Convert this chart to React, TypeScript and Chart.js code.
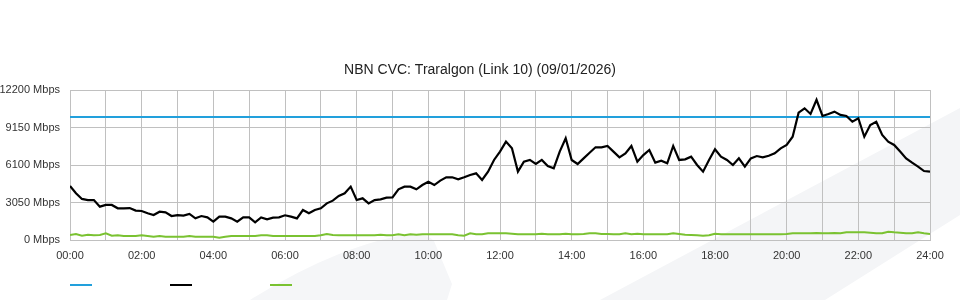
import React, { useEffect, useRef } from "react";
import { Chart, registerables } from "chart.js";

Chart.register(...registerables);

const TITLE = "NBN CVC: Traralgon (Link 10) (09/01/2026)";
const SAMPLE_MINUTES = 10;
const X_TICK_HOURS = [0, 2, 4, 6, 8, 10, 12, 14, 16, 18, 20, 22, 24];
const Y_TICKS = [0, 3050, 6100, 9150, 12200];

// capacity (blue)
const capacityHours = [0, 24];
const capacity = [10000, 10000];

// download traffic (black), one value per 10 minutes from 00:00 to 24:00
const traffic = [
  4390, 3800, 3340, 3250, 3250, 2710,
  2850, 2850, 2580, 2580, 2600, 2390,
  2360, 2170, 2030, 2300, 2250, 1950,
  2030, 1980, 2120, 1760, 1950, 1840,
  1490, 1900, 1900, 1760, 1490, 1840,
  1840, 1440, 1840, 1680, 1820, 1840,
  2010, 1900, 1760, 2440, 2170, 2440,
  2580, 2980, 3200, 3580, 3800, 4340,
  3250, 3390, 2980, 3250, 3310, 3440,
  3470, 4120, 4340, 4340, 4120, 4470,
  4740, 4470, 4830, 5100, 5100, 4930,
  5100, 5290, 5420, 4880, 5560, 6510,
  7190, 8000, 7460, 5560, 6370, 6510,
  6180, 6510, 6020, 5830, 7190, 8270,
  6510, 6180, 6640, 7100, 7540, 7540,
  7650, 7190, 6720, 7050, 7650, 6370,
  6910, 7320, 6290, 6450, 6240, 7650,
  6510, 6560, 6780, 6100, 5560, 6510,
  7380, 6780, 6510, 6100, 6640, 5970,
  6640, 6830, 6720, 6850, 7050, 7450,
  7730, 8400, 10360, 10710, 10250, 11400,
  10090, 10250, 10440, 10170, 10090, 9620,
  9900, 8400, 9350, 9620, 8540, 8000,
  7730, 7190, 6640, 6290, 5970, 5610,
  5560,
];

// upload traffic (green), one value per 10 minutes
const upload = [
  407, 488, 352, 434, 380, 407,
  542, 352, 380, 325, 325, 325,
  380, 325, 271, 325, 271, 271,
  271, 271, 325, 271, 271, 271,
  271, 190, 271, 325, 325, 325,
  325, 325, 380, 380, 325, 325,
  325, 325, 325, 325, 325, 325,
  380, 488, 407, 380, 380, 380,
  380, 380, 380, 380, 434, 380,
  380, 461, 380, 461, 434, 461,
  461, 461, 461, 461, 461, 380,
  352, 542, 461, 461, 542, 542,
  542, 542, 515, 461, 461, 461,
  461, 515, 461, 461, 461, 515,
  461, 461, 488, 542, 542, 488,
  488, 461, 461, 542, 461, 515,
  461, 461, 461, 461, 461, 542,
  488, 434, 407, 380, 352, 380,
  515, 461, 461, 461, 461, 461,
  461, 461, 461, 461, 461, 461,
  488, 542, 542, 542, 542, 570,
  542, 542, 570, 542, 624, 624,
  624, 624, 597, 542, 542, 678,
  624, 597, 542, 542, 624, 542,
  488,
];

const FONT = "'Liberation Sans', Arial, Helvetica, sans-serif";
const GRID = "#c0c0c0";

const toPoints = (vals: number[]) =>
  vals.map((y, i) => ({ x: (i * SAMPLE_MINUTES) / 60, y }));

const lineLegend = {
  id: "lineLegend",
  afterDraw(chart: any) {
    const { ctx, chartArea } = chart;
    ctx.save();
    chart.data.datasets.forEach((ds: any, i: number) => {
      const x0 = chartArea.left + i * 100;
      const y = chartArea.bottom + 45;
      ctx.beginPath();
      ctx.moveTo(x0, y);
      ctx.lineTo(x0 + 22, y);
      ctx.lineWidth = 2;
      ctx.strokeStyle = ds.borderColor;
      ctx.stroke();
    });
    ctx.restore();
  },
};

export default function App() {
  const ref = useRef<HTMLCanvasElement | null>(null);

  useEffect(() => {
    if (!ref.current) return;
    const chart = new Chart(ref.current, {
      type: "line",
      data: {
        datasets: [
          {
            label: "",
            data: capacityHours.map((x, i) => ({ x, y: capacity[i] })),
            borderColor: "#22a0dc",
            borderWidth: 2,
            pointRadius: 0,
            order: 2,
          },
          {
            label: "",
            data: toPoints(traffic),
            borderColor: "#000000",
            borderWidth: 2.2,
            pointRadius: 0,
            order: 0,
          },
          {
            label: "",
            data: toPoints(upload),
            borderColor: "#7ac231",
            borderWidth: 2,
            pointRadius: 0,
            order: 1,
          },
        ],
      },
      options: {
        animation: false,
        responsive: false,
        devicePixelRatio: 1,
        parsing: false as any,
        layout: { padding: { left: 0, right: 0, top: 0, bottom: 35 } },
        plugins: {
          legend: { display: false },
          tooltip: { enabled: false },
          title: {
            display: true,
            text: TITLE,
            color: "#222222",
            font: { family: FONT, size: 14, weight: "normal" as any },
            padding: { top: 62, bottom: 11.2 },
          },
        },
        scales: {
          x: {
            type: "linear",
            min: 0,
            max: 24,
            afterFit: (s: any) => {
              s.height = 25;
            },
            afterBuildTicks: (s: any) => {
              const t: any[] = [];
              for (let h = 0; h <= 24; h++) t.push({ value: h });
              s.ticks = t;
            },
            ticks: {
              stepSize: 1,
              autoSkip: false,
              maxRotation: 0,
              padding: 9,
              color: "#333333",
              font: { family: FONT, size: 11 },
              callback: (v: any) =>
                X_TICK_HOURS.includes(Number(v))
                  ? String(v).padStart(2, "0") + ":00"
                  : "",
            },
            grid: { color: GRID, lineWidth: 1, drawTicks: false },
            border: { color: GRID },
          },
          y: {
            min: Y_TICKS[0],
            max: Y_TICKS[Y_TICKS.length - 1],
            afterFit: (s: any) => {
              s.width = 70;
            },
            afterBuildTicks: (s: any) => {
              s.ticks = Y_TICKS.map((value) => ({ value }));
            },
            ticks: {
              padding: 10,
              color: "#333333",
              font: { family: FONT, size: 11 },
              callback: (v: any) => v + " Mbps",
            },
            grid: { color: GRID, lineWidth: 1, drawTicks: false },
            border: { color: GRID },
          },
          yRight: {
            position: "right",
            display: true,
            min: 0,
            max: 1,
            afterFit: (s: any) => {
              s.width = 30;
            },
            ticks: { display: false },
            grid: { display: false, drawTicks: false },
            border: { display: false },
          },
        },
      },
      plugins: [lineLegend],
    });
    return () => chart.destroy();
  }, []);

  return (
    <div
      style={{
        position: "absolute",
        left: 0,
        top: 0,
        width: 960,
        height: 300,
        background: "#ffffff",
        overflow: "hidden",
      }}
    >
      <svg
        width={960}
        height={300}
        style={{ position: "absolute", left: 0, top: 0 }}
      >
        <polygon points="600,300 960,108 960,215 825,300" fill="#f4f5f7" />
        <path
          d="M250,300 Q330,250 398,236 Q425,231 434,241 L452,284 L447,300 Z"
          fill="#f5f6f8"
        />
      </svg>
      <canvas
        ref={ref}
        width={960}
        height={300}
        style={{ position: "absolute", left: 0, top: 0 }}
      />
    </div>
  );
}
